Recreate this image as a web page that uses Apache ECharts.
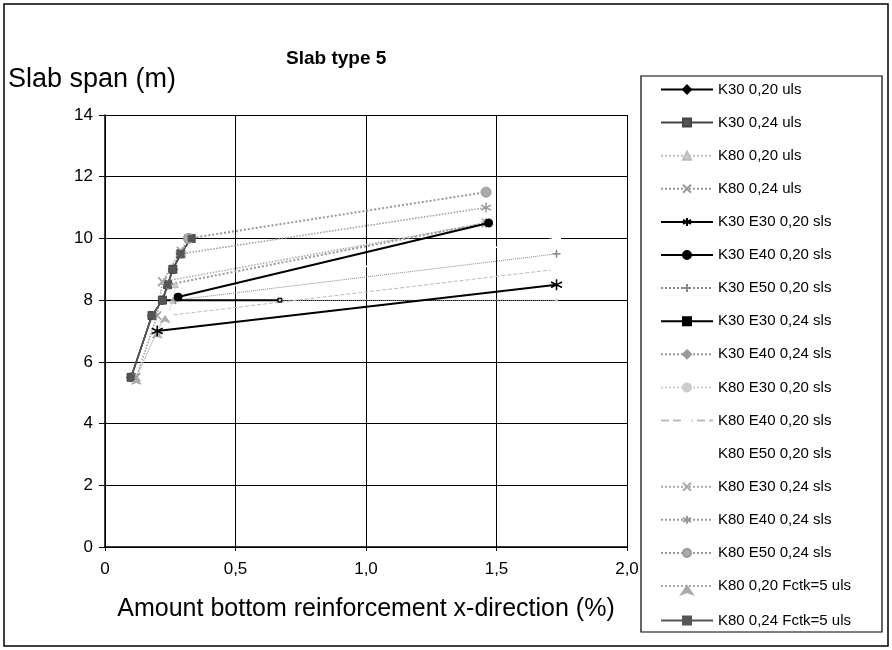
<!DOCTYPE html>
<html>
<head>
<meta charset="utf-8">
<script src="https://cdn.jsdelivr.net/npm/echarts@6/dist/echarts.min.js"></script>
<style>
  html, body { margin: 0; padding: 0; background: #fff; }
  #main { width: 892px; height: 650px; }
</style>
</head>
<body>
<div id="main"></div>
<script>
// series names, in legend order
var names = [
    'K30 0,20 uls', 'K30 0,24 uls', 'K80 0,20 uls', 'K80 0,24 uls',
    'K30 E30 0,20 sls', 'K30 E40 0,20 sls', 'K30 E50 0,20 sls', 'K30 E30 0,24 sls',
    'K30 E40 0,24 sls', 'K80 E30 0,20 sls', 'K80 E40 0,20 sls', 'K80 E50 0,20 sls',
    'K80 E30 0,24 sls', 'K80 E40 0,24 sls', 'K80 E50 0,24 sls',
    'K80 0,20 Fctk=5 uls', 'K80 0,24 Fctk=5 uls'
];

// [reinforcement %, span m]
var k30_020_uls = [[0.10, 5.5], [0.18, 7.5], [0.22, 8.0], [0.24, 8.5], [0.26, 9.0], [0.29, 9.5], [0.33, 10.0]];
var k30_024_uls = [[0.10, 5.5], [0.18, 7.5], [0.22, 8.0], [0.24, 8.5], [0.26, 9.0], [0.29, 9.5], [0.33, 10.0]];
var k80_020_uls = [[0.12, 5.5], [0.20, 7.0], [0.24, 7.5], [0.26, 8.0], [0.27, 8.5]];
var k80_024_uls = [[0.12, 5.5], [0.20, 7.5], [0.22, 8.6], [0.29, 9.6], [0.32, 10.0]];
var k30e30_020_sls = [[0.20, 7.0], [1.73, 8.5]];
var k30e40_020_sls = [[0.28, 8.1], [1.47, 10.5]];
var k30e50_020_sls = [[0.27, 8.0], [1.73, 9.5]];
var k30e30_024_sls = [[0.22, 8.0], [0.67, 8.0]];
var k30e40_024_sls = [[0.24, 8.5], [1.46, 10.5]];
var k80e30_020_sls = [[0.67, 8.0], [1.73, 8.0]];
var k80e40_020_sls = [[0.24, 7.5], [1.73, 9.0]];
var k80e50_020_sls = [[0.28, 8.2], [1.73, 10.0]];
var k80e30_024_sls = [[0.22, 8.6], [1.46, 10.5]];
var k80e40_024_sls = [[0.29, 9.5], [1.46, 11.0]];
var k80e50_024_sls = [[0.32, 10.0], [1.46, 11.5]];
var k80_020_fctk_uls = [[0.12, 5.5], [0.20, 7.0], [0.23, 7.5]];
var k80_024_fctk_uls = [[0.10, 5.5], [0.18, 7.5], [0.22, 8.0], [0.24, 8.5], [0.26, 9.0], [0.29, 9.5], [0.33, 10.0]];

var dataList = [
    k30_020_uls, k30_024_uls, k80_020_uls, k80_024_uls,
    k30e30_020_sls, k30e40_020_sls, k30e50_020_sls, k30e30_024_sls,
    k30e40_024_sls, k80e30_020_sls, k80e40_020_sls, k80e50_020_sls,
    k80e30_024_sls, k80e40_024_sls, k80e50_024_sls,
    k80_020_fctk_uls, k80_024_fctk_uls
];

// marker paths (all have some width and height, or the legend icon breaks)
var STAR = 'path://M0,-10L0,10M-9,-5L9,5M-9,5L9,-5';
var CROSS = 'path://M-6,-6L6,6M-6,6L6,-6';
var TICK = 'path://M0,-6L0,6M-2,0L2,0';

// look of each series: [line color, width, type, symbol, symbol size, fill, z]
var looks = [
    ['#000', 1.5, 'solid', 'diamond', 9, '#000', 2],
    ['#444', 1.5, 'solid', 'rect', 8, '#555', 2],
    ['#bbb', 1, 'dotted', 'triangle', 6, '#ccc', 2],
    ['#999', 1.5, 'dotted', CROSS, 8, 'none', 2],
    ['#000', 2, 'solid', STAR, 11, 'none', 3],
    ['#000', 2, 'solid', 'circle', 8, '#000', 3],
    ['#888', 1, 'dotted', TICK, 8, 'none', 2],
    ['#000', 2, 'solid', 'rect', 4, '#000', 2],
    ['#999', 2, 'dotted', 'diamond', 9, '#999', 2],
    ['#ccc', 1, 'dotted', 'circle', 2, '#ccc', 2],
    ['#bbb', 1, 'dashed', 'emptyDiamond', 10, '#fff', 2],
    ['#fff', 1.5, 'solid', 'rect', 8, '#fff', 1],
    ['#aaa', 1.5, 'dotted', CROSS, 9, 'none', 2],
    ['#999', 1.5, 'dotted', STAR, 10, 'none', 2],
    ['#999', 2, 'dotted', 'circle', 10, '#aaa', 2],
    ['#aaa', 1, 'dotted', 'arrow', 7, '#aaa', 2],
    ['#555', 1.5, 'solid', 'rect', 6, '#555', 2]
];

var series = [];
for (var i = 0; i < names.length; i++) {
    var lk = looks[i];
    series.push({
        name: names[i],
        type: 'line',
        data: dataList[i],
        z: lk[6],
        symbol: lk[3],
        symbolSize: lk[4],
        showSymbol: true,
        lineStyle: { color: lk[0], width: lk[1], type: lk[2] },
        itemStyle: {
            color: lk[5] === 'none' ? 'rgba(0,0,0,0)' : lk[5],
            borderColor: lk[0],
            borderWidth: lk[5] === 'none' ? 1.5 : 1
        },
        emphasis: { disabled: true },
        animation: false
    });
}

var chart = echarts.init(document.getElementById('main'));
chart.setOption({
    animation: false,
    backgroundColor: '#fff',
    textStyle: { fontFamily: 'Liberation Sans' },
    title: {
        text: 'Slab type 5',
        left: 281,
        top: 44,
        textStyle: { fontSize: 19, fontWeight: 'bold', color: '#000', fontFamily: 'Liberation Sans' }
    },
    grid: { left: 105, right: 265, top: 115, bottom: 103 },
    legend: {
        orient: 'vertical',
        left: 660,
        top: 82,
        height: 560,
        itemWidth: 52,
        itemHeight: 10,
        itemGap: 18.1,
        padding: 0,
        selectedMode: false,
        textStyle: { fontSize: 15, color: '#000', fontFamily: 'Liberation Sans' },
        data: names
    },
    xAxis: {
        type: 'value',
        min: 0,
        max: 2,
        interval: 0.5,
        name: 'Amount bottom reinforcement x-direction (%)',
        nameLocation: 'middle',
        nameGap: 50,
        nameTextStyle: { fontSize: 25, color: '#000', fontFamily: 'Liberation Sans' },
        axisLine: { show: true, onZero: false, lineStyle: { color: '#000', width: 1.5 } },
        axisTick: { show: true, length: 4, lineStyle: { color: '#000' } },
        axisLabel: {
            fontSize: 17, color: '#000', margin: 14,
            formatter: function (v) { return v === 0 ? '0' : v.toFixed(1).replace('.', ','); }
        },
        splitLine: { show: true, lineStyle: { color: '#000', width: 1 } }
    },
    yAxis: {
        type: 'value',
        min: 0,
        max: 14,
        interval: 2,
        name: 'Slab span (m)',
        nameLocation: 'end',
        nameGap: 22,
        nameTextStyle: { fontSize: 27, color: '#000', fontFamily: 'Liberation Sans', align: 'left', padding: [0, 0, 0, -97] },
        axisLine: { show: true, lineStyle: { color: '#000', width: 1.5 } },
        axisTick: { show: true, length: 6, lineStyle: { color: '#000' } },
        axisLabel: { fontSize: 17, color: '#000', margin: 12 },
        splitLine: { show: true, lineStyle: { color: '#000', width: 1 } }
    },
    graphic: [
        {
            type: 'rect',
            shape: { x: 4, y: 4, width: 884, height: 642 },
            style: { fill: 'none', stroke: '#000', lineWidth: 1.5 },
            silent: true
        },
        {
            type: 'rect',
            shape: { x: 641, y: 76, width: 241, height: 556 },
            style: { fill: 'none', stroke: '#000', lineWidth: 1.2 },
            silent: true
        }
    ],
    series: series
});
</script>
</body>
</html>
